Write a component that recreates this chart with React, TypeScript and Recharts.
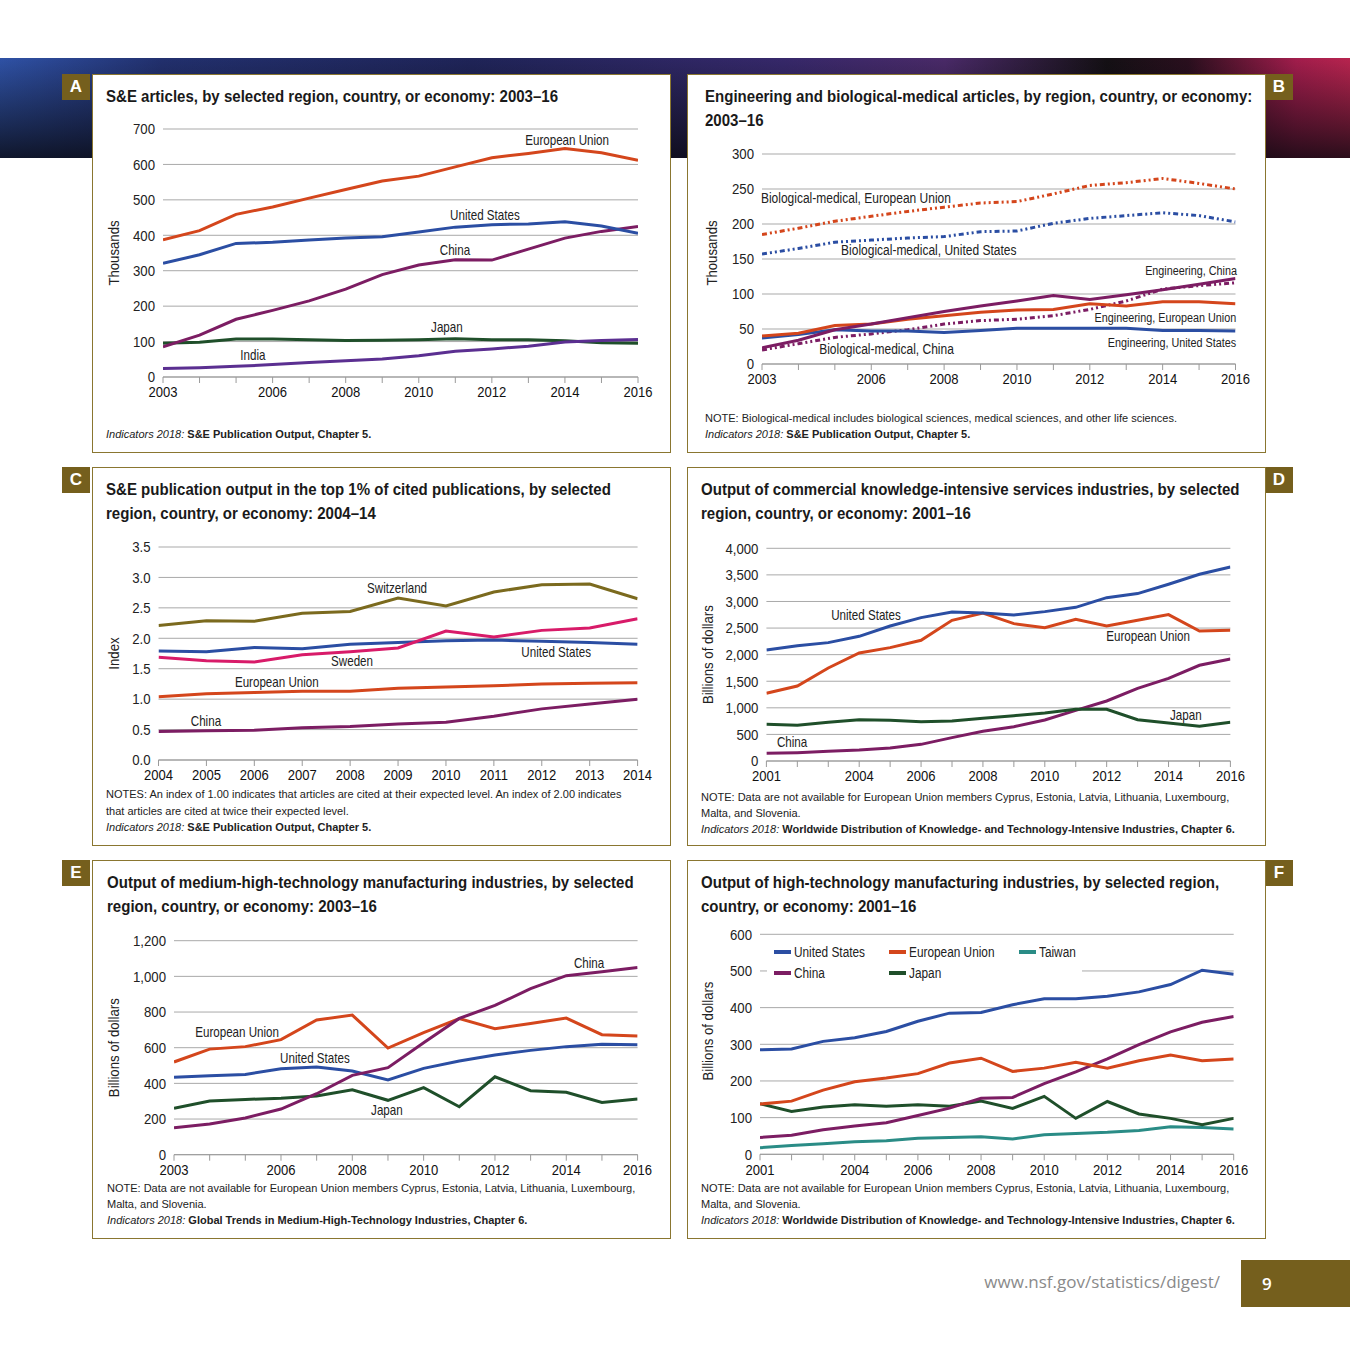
import React from "react";
import { LineChart, Line, XAxis, YAxis, CartesianGrid, ReferenceDot } from "recharts";

const SANS = "'Liberation Sans', Arial, sans-serif";

const OLIVE = "#755f1d";
const BORDER = "#8a7630";
const GRID = "#a9a9a9";
const INK = "#222";

const EU = "#d4461c";
const US = "#2b4ea3";
const CHINA = "#7c1d63";
const JAPAN = "#1f4f2a";
const INDIA = "#5b2f91";
const SWEDEN = "#d81b69";
const SWISS = "#7b6a1e";
const TAIWAN = "#2a8c86";

const DOTTED = "5 3 2 3 2 3";

// A: S&E articles
const A_YEARS = [2003, 2004, 2005, 2006, 2007, 2008, 2009, 2010, 2011, 2012, 2013, 2014, 2015, 2016];
const A_EU = [387, 413, 459, 480, 505, 529, 553, 567, 593, 619, 631, 645, 633, 612];
const A_US = [321, 345, 377, 380, 387, 392, 396, 409, 423, 430, 432, 438, 426, 406];
const A_CHINA = [85, 118, 163, 188, 215, 248, 289, 316, 331, 330, 361, 392, 411, 425];
const A_JAPAN = [95, 98, 107, 107, 105, 103, 104, 105, 108, 105, 105, 102, 97, 95];
const A_INDIA = [24, 26, 30, 35, 41, 46, 51, 60, 73, 79, 87, 99, 103, 106];
const A_YTICKS = [0, 100, 200, 300, 400, 500, 600, 700];
const A_XLABELS = [2003, 2006, 2008, 2010, 2012, 2014, 2016];

// B: engineering and biological-medical articles
const B_YEARS = [2003, 2004, 2005, 2006, 2007, 2008, 2009, 2010, 2011, 2012, 2013, 2014, 2015, 2016];
const B_BIO_EU = [185, 194, 204, 211, 218, 224, 230, 232, 243, 255, 259, 265, 258, 250];
const B_BIO_US = [157, 165, 174, 177, 180, 182, 189, 190, 201, 208, 212, 216, 212, 203];
const B_ENG_CHINA = [23, 34, 49, 57, 66, 75, 83, 90, 98, 92, 99, 106, 114, 122];
const B_ENG_EU = [40, 44, 55, 57, 64, 69, 74, 77, 78, 86, 83, 89, 89, 86];
const B_ENG_US = [37, 42, 49, 47, 47, 45, 48, 51, 51, 51, 51, 48, 48, 47];
const B_BIO_CHINA = [20, 29, 38, 43, 49, 57, 62, 64, 69, 78, 90, 107, 112, 116];
const B_YTICKS = [0, 50, 100, 150, 200, 250, 300];
const B_XLABELS = [2003, 2006, 2008, 2010, 2012, 2014, 2016];

// C: top 1% cited publications index
const C_YEARS = [2004, 2005, 2006, 2007, 2008, 2009, 2010, 2011, 2012, 2013, 2014];
const C_SWISS = [2.21, 2.29, 2.28, 2.41, 2.44, 2.66, 2.53, 2.76, 2.88, 2.89, 2.65];
const C_SWEDEN = [1.69, 1.63, 1.61, 1.73, 1.78, 1.84, 2.12, 2.02, 2.13, 2.17, 2.32];
const C_US = [1.79, 1.78, 1.85, 1.83, 1.9, 1.93, 1.96, 1.97, 1.95, 1.93, 1.9];
const C_EU = [1.04, 1.09, 1.11, 1.13, 1.13, 1.18, 1.2, 1.22, 1.25, 1.26, 1.27];
const C_CHINA = [0.47, 0.48, 0.49, 0.53, 0.55, 0.59, 0.62, 0.72, 0.84, 0.92, 1.0];
const C_YTICKS = [0, 0.5, 1, 1.5, 2, 2.5, 3, 3.5];
const C_XLABELS = [2004, 2005, 2006, 2007, 2008, 2009, 2010, 2011, 2012, 2013, 2014];

// D: commercial knowledge-intensive services
const D_YEARS = [2001, 2002, 2003, 2004, 2005, 2006, 2007, 2008, 2009, 2010, 2011, 2012, 2013, 2014, 2015, 2016];
const D_US = [2088, 2169, 2226, 2345, 2539, 2696, 2803, 2784, 2746, 2809, 2890, 3072, 3148, 3323, 3511, 3649];
const D_EU = [1273, 1411, 1749, 2031, 2132, 2270, 2646, 2784, 2583, 2508, 2665, 2539, 2646, 2753, 2445, 2458];
const D_CHINA = [144, 157, 182, 207, 245, 313, 439, 558, 646, 771, 953, 1129, 1367, 1555, 1800, 1919];
const D_JAPAN = [690, 671, 727, 777, 765, 740, 752, 803, 853, 903, 972, 972, 777, 715, 652, 727];
const D_YTICKS = [0, 500, 1000, 1500, 2000, 2500, 3000, 3500, 4000];
const D_XLABELS = [2001, 2004, 2006, 2008, 2010, 2012, 2014, 2016];

// E: medium-high-technology manufacturing
const E_YEARS = [2003, 2004, 2005, 2006, 2007, 2008, 2009, 2010, 2011, 2012, 2013, 2014, 2015, 2016];
const E_EU = [520, 592, 606, 645, 755, 783, 598, 684, 763, 706, 736, 766, 673, 665];
const E_US = [434, 443, 450, 482, 492, 469, 419, 484, 525, 559, 585, 606, 619, 617];
const E_CHINA = [151, 172, 206, 256, 342, 445, 488, 628, 764, 837, 931, 1004, 1026, 1050];
const E_JAPAN = [260, 301, 310, 316, 329, 364, 305, 376, 269, 437, 359, 350, 293, 312];
const E_YTICKS = [0, 200, 400, 600, 800, 1000, 1200];
const E_XLABELS = [2003, 2006, 2008, 2010, 2012, 2014, 2016];

// F: high-technology manufacturing
const F_YEARS = [2001, 2002, 2003, 2004, 2005, 2006, 2007, 2008, 2009, 2010, 2011, 2012, 2013, 2014, 2015, 2016];
const F_US = [285, 287, 308, 318, 335, 363, 385, 387, 408, 424, 424, 431, 443, 463, 502, 491];
const F_EU = [137, 145, 175, 198, 208, 220, 249, 262, 226, 235, 251, 235, 255, 271, 255, 260];
const F_CHINA = [46, 52, 67, 77, 86, 106, 126, 153, 155, 193, 225, 260, 299, 334, 360, 376];
const F_JAPAN = [138, 117, 129, 135, 131, 135, 131, 145, 125, 158, 98, 144, 110, 98, 81, 98];
const F_TAIWAN = [18, 24, 29, 34, 37, 44, 46, 48, 42, 53, 57, 60, 65, 75, 73, 69];
const F_YTICKS = [0, 100, 200, 300, 400, 500, 600];
const F_XLABELS = [2001, 2004, 2006, 2008, 2010, 2012, 2014, 2016];

const EU_NOTE = [
  "NOTE: Data are not available for European Union members Cyprus, Estonia, Latvia, Lithuania, Luxembourg,",
  "Malta, and Slovenia.",
];

type Series = { key: string; name: string; values: number[]; color: string; dash?: string };
type Anno = { text: string; x: number; y: number; anchor?: "start" | "middle" | "end"; size?: number };
type Rect = { l: number; t: number; r: number; b: number };

const W = 577;
const H = 377;
const YW = 50;
const XH = 30;

const fmtComma = (v: number) => v.toLocaleString("en-US");
const fmtPlain = (v: number) => String(v);
const fmtOne = (v: number) => v.toFixed(1);

// narrow look: Liberation Sans squeezed horizontally
function NText(props: {
  x: number;
  y: number;
  text: string | number;
  size: number;
  sx: number;
  anchor?: "start" | "middle" | "end";
  rotate?: number;
  fill?: string;
}) {
  const { x, y, text, size, sx, anchor = "middle", rotate = 0, fill = INK } = props;
  return (
    <text
      transform={`translate(${x} ${y}) rotate(${rotate}) scale(${sx} 1)`}
      x={0}
      y={0}
      textAnchor={anchor}
      dominantBaseline="central"
      fontSize={size}
      fontFamily={SANS}
      fill={fill}
    >
      {text}
    </text>
  );
}

function YearTick(props: any) {
  const { x, y, payload, labels } = props;
  if (!labels.includes(payload.value)) return <g />;
  return <NText x={x} y={y + 6} text={payload.value} size={15} sx={0.87} fill="#111" />;
}

function ValueTick(props: any) {
  const { x, y, payload, fmt } = props;
  return <NText x={x} y={y} text={fmt(payload.value)} size={15} sx={0.88} anchor="end" />;
}

function AxisTitle(props: any) {
  return <NText x={props.cx} y={props.cy} text={props.text} size={15} sx={0.88} rotate={-90} />;
}

type PanelProps = {
  left: number;
  top: number;
  letter: string;
  side: "left" | "right";
  title: string[];
  titleX: number;
  notes: string[];
  source: string;
  notesTop: number;
  lineGap?: number;
  rect: Rect;
  years: number[];
  xLabels: number[];
  yTicks: number[];
  yFmt: (v: number) => string;
  yLabel: string;
  yLabelX: number;
  yLabelY?: number;
  series: Series[];
  annos: Anno[];
  legend?: React.ReactNode;
};

function Panel(p: PanelProps) {
  const rows = p.years.map((year, i) => {
    const row: Record<string, number> = { year };
    p.series.forEach((s) => (row[s.key] = s.values[i]));
    return row;
  });
  const margin = {
    top: p.rect.t,
    right: W - p.rect.r,
    bottom: H - p.rect.b - XH,
    left: p.rect.l - YW,
  };
  const gap = p.lineGap ?? 16;
  return (
    <>
      <div
        style={{
          position: "absolute",
          left: p.side === "left" ? p.left - 30 : p.left + W + 1,
          top: p.top,
          width: 28,
          height: 26,
          background: OLIVE,
          color: "#fff",
          fontFamily: SANS,
          fontWeight: 700,
          fontSize: 17,
          lineHeight: "26px",
          textAlign: "center",
        }}
      >
        {p.letter}
      </div>
      <div
        style={{
          position: "absolute",
          left: p.left,
          top: p.top,
          width: W,
          height: H,
          background: "#fff",
          border: `1px solid ${BORDER}`,
        }}
      >
        <div
          style={{
            position: "absolute",
            left: p.titleX,
            top: 10,
            fontFamily: SANS,
            fontWeight: 700,
            fontSize: 17,
            lineHeight: "24px",
            color: "#1a1a1a",
            whiteSpace: "nowrap",
            transform: "scaleX(0.885)",
            transformOrigin: "0 0",
          }}
        >
          {p.title.map((t) => (
            <div key={t}>{t}</div>
          ))}
        </div>
        <div style={{ position: "absolute", left: 0, top: 0 }}>
          <LineChart width={W} height={H} data={rows} margin={margin}>
            <CartesianGrid vertical={false} stroke={GRID} strokeWidth={1} />
            <XAxis
              type="number"
              dataKey="year"
              domain={[p.years[0], p.years[p.years.length - 1]]}
              ticks={p.years}
              interval={0}
              height={XH}
              stroke="#9a9a9a"
              tickSize={6}
              tickMargin={3}
              tick={<YearTick labels={p.xLabels} />}
              allowDataOverflow
            />
            <YAxis
              type="number"
              domain={[0, p.yTicks[p.yTicks.length - 1]]}
              ticks={p.yTicks}
              interval={0}
              width={YW}
              axisLine={false}
              tickLine={false}
              tickSize={0}
              tickMargin={8}
              tick={<ValueTick fmt={p.yFmt} />}
              allowDataOverflow
              label={
                <AxisTitle cx={p.yLabelX} cy={p.yLabelY ?? (p.rect.t + p.rect.b) / 2} text={p.yLabel} />
              }
            />
            {p.series.map((s) => (
              <Line
                key={s.key}
                type="linear"
                dataKey={s.key}
                name={s.name}
                stroke={s.color}
                strokeWidth={3}
                strokeDasharray={s.dash}
                dot={false}
                activeDot={false}
                isAnimationActive={false}
              />
            ))}
            {p.annos.map((a) => (
              <ReferenceDot
                key={a.text}
                x={a.x}
                y={a.y}
                r={0}
                ifOverflow="visible"
                shape={(sp: any) => (
                  <NText x={sp.cx} y={sp.cy} text={a.text} size={a.size ?? 14.5} sx={0.8} anchor={a.anchor ?? "middle"} />
                )}
              />
            ))}
          </LineChart>
        </div>
        {p.legend}
        <div
          style={{
            position: "absolute",
            left: p.titleX,
            top: p.notesTop,
            fontFamily: SANS,
            fontSize: 11,
            lineHeight: `${gap}px`,
            color: INK,
            whiteSpace: "nowrap",
          }}
        >
          {p.notes.map((n) => (
            <div key={n}>{n}</div>
          ))}
          <div>
            <i>Indicators 2018:</i> <b>{p.source}</b>
          </div>
        </div>
      </div>
    </>
  );
}

const F_LEGEND: { name: string; color: string; col: number; row: number }[] = [
  { name: "United States", color: US, col: 0, row: 0 },
  { name: "European Union", color: EU, col: 1, row: 0 },
  { name: "Taiwan", color: TAIWAN, col: 2, row: 0 },
  { name: "China", color: CHINA, col: 0, row: 1 },
  { name: "Japan", color: JAPAN, col: 1, row: 1 },
];

function FLegend() {
  const colX = [7, 122, 252];
  return (
    <div
      style={{
        position: "absolute",
        left: 79,
        top: 81,
        width: 315,
        height: 42,
        background: "#fff",
      }}
    >
      {F_LEGEND.map((it) => (
        <div
          key={it.name}
          style={{
            position: "absolute",
            left: colX[it.col],
            top: it.row * 21,
            height: 20,
            display: "flex",
            alignItems: "center",
            fontFamily: SANS,
            fontSize: 14,
            color: INK,
            whiteSpace: "nowrap",
          }}
        >
          <span style={{ display: "inline-block", width: 17, height: 4, background: it.color, marginRight: 3 }} />
          <span style={{ display: "inline-block", transform: "scaleX(0.845)", transformOrigin: "0 50%" }}>
            {it.name}
          </span>
        </div>
      ))}
    </div>
  );
}

export default function App() {
  return (
    <div
      style={{
        position: "absolute",
        left: 0,
        top: 0,
        width: 1350,
        height: 1350,
        background: "#fff",
        overflow: "hidden",
      }}
    >
      <div
        style={{
          position: "absolute",
          left: 0,
          top: 58,
          width: 1350,
          height: 100,
          background:
            "linear-gradient(180deg, rgba(0,0,0,0) 0%, rgba(8,8,14,0.55) 70%, rgba(8,8,14,0.8) 100%), linear-gradient(90deg, #2f52a6 0%, #22306e 12%, #1f2458 35%, #36286a 58%, #4a2a68 70%, #141014 82%, #2a0f1e 88%, #a21d4c 96%, #b8244f 100%)",
        }}
      />

      <Panel
        left={92}
        top={74}
        letter="A"
        side="left"
        title={["S&E articles, by selected region, country, or economy: 2003–16"]}
        titleX={13}
        notes={[]}
        source="S&E Publication Output, Chapter 5."
        notesTop={351}
        rect={{ l: 70, t: 54, r: 545, b: 302 }}
        years={A_YEARS}
        xLabels={A_XLABELS}
        yTicks={A_YTICKS}
        yFmt={fmtPlain}
        yLabel="Thousands"
        yLabelX={21}
        series={[
          { key: "japan", name: "Japan", values: A_JAPAN, color: JAPAN },
          { key: "india", name: "India", values: A_INDIA, color: INDIA },
          { key: "china", name: "China", values: A_CHINA, color: CHINA },
          { key: "us", name: "United States", values: A_US, color: US },
          { key: "eu", name: "European Union", values: A_EU, color: EU },
        ]}
        annos={[
          { text: "European Union", x: 2014.06, y: 669 },
          { text: "United States", x: 2011.81, y: 457 },
          { text: "China", x: 2010.99, y: 358 },
          { text: "Japan", x: 2010.77, y: 141 },
          { text: "India", x: 2005.46, y: 62 },
        ]}
      />

      <Panel
        left={687}
        top={74}
        letter="B"
        side="right"
        title={["Engineering and biological-medical articles, by region, country, or economy:", "2003–16"]}
        titleX={17}
        notes={["NOTE: Biological-medical includes biological sciences, medical sciences, and other life sciences."]}
        source="S&E Publication Output, Chapter 5."
        notesTop={335}
        rect={{ l: 74, t: 79, r: 547.5, b: 289 }}
        years={B_YEARS}
        xLabels={B_XLABELS}
        yTicks={B_YTICKS}
        yFmt={fmtPlain}
        yLabel="Thousands"
        yLabelX={24}
        yLabelY={178}
        series={[
          { key: "bioChina", name: "Biological-medical, China", values: B_BIO_CHINA, color: CHINA, dash: DOTTED },
          { key: "engUs", name: "Engineering, United States", values: B_ENG_US, color: US },
          { key: "engEu", name: "Engineering, European Union", values: B_ENG_EU, color: EU },
          { key: "engChina", name: "Engineering, China", values: B_ENG_CHINA, color: CHINA },
          { key: "bioUs", name: "Biological-medical, United States", values: B_BIO_US, color: US, dash: DOTTED },
          { key: "bioEu", name: "Biological-medical, European Union", values: B_BIO_EU, color: EU, dash: DOTTED },
        ]}
        annos={[
          { text: "Biological-medical, European Union", x: 2002.97, y: 237, anchor: "start", size: 15 },
          { text: "Biological-medical, United States", x: 2005.17, y: 163, anchor: "start", size: 15 },
          { text: "Engineering, China", x: 2016.04, y: 133, anchor: "end", size: 13.5 },
          { text: "Engineering, European Union", x: 2016.02, y: 66, anchor: "end", size: 13.5 },
          { text: "Engineering, United States", x: 2016.02, y: 31, anchor: "end", size: 13.5 },
          { text: "Biological-medical, China", x: 2004.57, y: 21, anchor: "start", size: 15 },
        ]}
      />

      <Panel
        left={92}
        top={467}
        letter="C"
        side="left"
        title={["S&E publication output in the top 1% of cited publications, by selected", "region, country, or economy: 2004–14"]}
        titleX={13}
        notes={[
          "NOTES: An index of 1.00 indicates that articles are cited at their expected level. An index of 2.00 indicates",
          "that articles are cited at twice their expected level.",
        ]}
        source="S&E Publication Output, Chapter 5."
        notesTop={318}
        lineGap={16.5}
        rect={{ l: 65.5, t: 79, r: 544.6, b: 292 }}
        years={C_YEARS}
        xLabels={C_XLABELS}
        yTicks={C_YTICKS}
        yFmt={fmtOne}
        yLabel="Index"
        yLabelX={21}
        series={[
          { key: "china", name: "China", values: C_CHINA, color: CHINA },
          { key: "eu", name: "European Union", values: C_EU, color: EU },
          { key: "us", name: "United States", values: C_US, color: US },
          { key: "sweden", name: "Sweden", values: C_SWEDEN, color: SWEDEN },
          { key: "swiss", name: "Switzerland", values: C_SWISS, color: SWISS },
        ]}
        annos={[
          { text: "Switzerland", x: 2008.98, y: 2.82 },
          { text: "Sweden", x: 2008.04, y: 1.62 },
          { text: "United States", x: 2012.3, y: 1.77 },
          { text: "European Union", x: 2006.47, y: 1.28 },
          { text: "China", x: 2004.99, y: 0.64 },
        ]}
      />

      <Panel
        left={687}
        top={467}
        letter="D"
        side="right"
        title={["Output of commercial knowledge-intensive services industries, by selected", "region, country, or economy: 2001–16"]}
        titleX={13}
        notes={EU_NOTE}
        source="Worldwide Distribution of Knowledge- and Technology-Intensive Industries, Chapter 6."
        notesTop={321}
        rect={{ l: 78.4, t: 80.3, r: 542.4, b: 293 }}
        years={D_YEARS}
        xLabels={D_XLABELS}
        yTicks={D_YTICKS}
        yFmt={fmtComma}
        yLabel="Billions of dollars"
        yLabelX={20}
        series={[
          { key: "china", name: "China", values: D_CHINA, color: CHINA },
          { key: "japan", name: "Japan", values: D_JAPAN, color: JAPAN },
          { key: "eu", name: "European Union", values: D_EU, color: EU },
          { key: "us", name: "United States", values: D_US, color: US },
        ]}
        annos={[
          { text: "United States", x: 2004.22, y: 2745 },
          { text: "European Union", x: 2013.34, y: 2350 },
          { text: "Japan", x: 2014.56, y: 865 },
          { text: "China", x: 2001.83, y: 357 },
        ]}
      />

      <Panel
        left={92}
        top={860}
        letter="E"
        side="left"
        title={["Output of medium-high-technology manufacturing industries, by selected", "region, country, or economy: 2003–16"]}
        titleX={14}
        notes={EU_NOTE}
        source="Global Trends in Medium-High-Technology Industries, Chapter 6."
        notesTop={319}
        rect={{ l: 81, t: 79.7, r: 544.6, b: 293.7 }}
        years={E_YEARS}
        xLabels={E_XLABELS}
        yTicks={E_YTICKS}
        yFmt={fmtComma}
        yLabel="Billions of dollars"
        yLabelX={21}
        series={[
          { key: "japan", name: "Japan", values: E_JAPAN, color: JAPAN },
          { key: "us", name: "United States", values: E_US, color: US },
          { key: "eu", name: "European Union", values: E_EU, color: EU },
          { key: "china", name: "China", values: E_CHINA, color: CHINA },
        ]}
        annos={[
          { text: "China", x: 2014.64, y: 1075 },
          { text: "European Union", x: 2004.77, y: 688 },
          { text: "United States", x: 2006.95, y: 542 },
          { text: "Japan", x: 2008.97, y: 251 },
        ]}
      />

      <Panel
        left={687}
        top={860}
        letter="F"
        side="right"
        title={["Output of high-technology manufacturing industries, by selected region,", "country, or economy: 2001–16"]}
        titleX={13}
        notes={EU_NOTE}
        source="Worldwide Distribution of Knowledge- and Technology-Intensive Industries, Chapter 6."
        notesTop={319}
        rect={{ l: 72, t: 73.3, r: 545.7, b: 293.3 }}
        years={F_YEARS}
        xLabels={F_XLABELS}
        yTicks={F_YTICKS}
        yFmt={fmtPlain}
        yLabel="Billions of dollars"
        yLabelX={20}
        yLabelY={170}
        series={[
          { key: "taiwan", name: "Taiwan", values: F_TAIWAN, color: TAIWAN },
          { key: "japan", name: "Japan", values: F_JAPAN, color: JAPAN },
          { key: "china", name: "China", values: F_CHINA, color: CHINA },
          { key: "eu", name: "European Union", values: F_EU, color: EU },
          { key: "us", name: "United States", values: F_US, color: US },
        ]}
        annos={[]}
        legend={<FLegend />}
      />

      <div
        style={{
          position: "absolute",
          right: 130,
          top: 1270,
          fontFamily: "'Open Sans', sans-serif",
          fontSize: 17,
          color: "#8a8a8a",
          whiteSpace: "nowrap",
        }}
      >
        www.nsf.gov/statistics/digest/
      </div>
      <div
        style={{
          position: "absolute",
          left: 1241,
          top: 1260,
          width: 109,
          height: 47,
          background: OLIVE,
          color: "#fff",
          fontFamily: "'Open Sans', sans-serif",
          fontWeight: 600,
          fontSize: 17,
          lineHeight: "47px",
          paddingLeft: 21,
          boxSizing: "border-box",
        }}
      >
        9
      </div>
    </div>
  );
}
